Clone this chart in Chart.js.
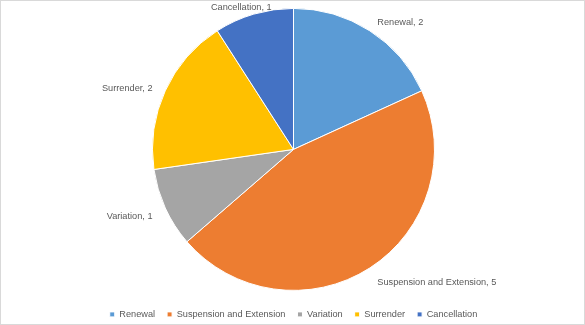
<!DOCTYPE html>
<html>
<head>
<meta charset="utf-8">
<script src="https://cdn.jsdelivr.net/npm/chart.js@4.4.1/dist/chart.umd.min.js"></script>
<style>
  html, body { margin: 0; padding: 0; background: #fff; }
  .wrap { position: relative; width: 585px; height: 325px; box-sizing: border-box; border: 1px solid #d9d9d9; }
  canvas { display: block; }
</style>
</head>
<body>
<div class="wrap"><canvas id="pieChart" width="583" height="323"></canvas></div>
<script>
  // chart data
  const categories = ["Renewal", "Suspension and Extension", "Variation", "Surrender", "Cancellation"];
  const counts = [2, 5, 1, 2, 1];
  const sliceColors = ["#5B9BD5", "#ED7D31", "#A5A5A5", "#FFC000", "#4472C4"];

  const textColor = "#595959";
  const fontFamily = "'Liberation Sans', Arial, sans-serif";

  // labels "Name, value" just outside each slice
  const outsideLabels = {
    id: "outsideLabels",
    afterDatasetsDraw(chart) {
      const ctx = chart.ctx;
      const meta = chart.getDatasetMeta(0);
      ctx.save();
      ctx.font = "9.2px " + fontFamily;
      ctx.fillStyle = textColor;
      ctx.textBaseline = "middle";
      meta.data.forEach((arc, i) => {
        const p = arc.getProps(["x", "y", "startAngle", "endAngle", "outerRadius"], true);
        const mid = (p.startAngle + p.endAngle) / 2;
        const r = p.outerRadius + 14;
        const cos = Math.cos(mid);
        let x = p.x + r * cos;
        let y = p.y + r * Math.sin(mid) + 3;
        const text = categories[i] + ", " + counts[i];
        const w = ctx.measureText(text).width;
        let left;
        if (cos > 0.5) left = x;
        else if (cos < -0.5) left = x - w;
        else left = x - w * (1 - cos) / 2;
        y = Math.max(y, 6);
        ctx.textAlign = "left";
        ctx.fillText(text, left, y);
      });
      ctx.restore();
    },
  };

  const pieCtx = document.getElementById("pieChart").getContext("2d");
  new Chart(pieCtx, {
    type: "pie",
    data: {
      labels: categories,
      datasets: [
        {
          data: counts,
          backgroundColor: sliceColors,
          borderColor: "#ffffff",
          borderWidth: 1,
        },
      ],
    },
    options: {
      responsive: false,
      animation: false,
      radius: 141,
      layout: { padding: { top: -6, bottom: -5, left: 2 } },
      plugins: {
        tooltip: { enabled: false },
        legend: {
          position: "bottom",
          labels: {
            boxWidth: 5,
            boxHeight: 5,
            padding: 12,
            color: textColor,
            font: { family: fontFamily, size: 9.2 },
          },
        },
      },
    },
    plugins: [outsideLabels],
  });
</script>
</body>
</html>
